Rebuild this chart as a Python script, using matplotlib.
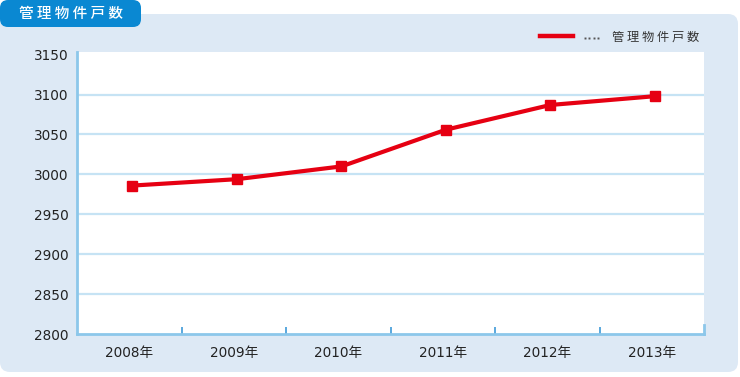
import matplotlib
matplotlib.use("Agg")
import matplotlib.pyplot as plt
from matplotlib.patches import FancyBboxPatch
from matplotlib.lines import Line2D

plt.rcParams['font.family'] = ['DejaVu Sans', 'Noto Sans CJK JP']

title = "管 理 物 件 戸 数"
series_name = "管 理 物 件 戸 数"
years = ["2008年", "2009年", "2010年", "2011年", "2012年", "2013年"]
values = [2986, 2994, 3010, 3056, 3087, 3098]
yticks = [2800, 2850, 2900, 2950, 3000, 3050, 3100, 3150]

W, H = 740, 377
fig = plt.figure(figsize=(W / 100, H / 100), dpi=100)
fig.patch.set_facecolor("white")

# background panel
bg = fig.add_axes([0, 0, 1, 1], zorder=0)
bg.set_xlim(0, W)
bg.set_ylim(H, 0)
bg.axis("off")
bg.add_patch(FancyBboxPatch((0, 14), 738, 358, boxstyle="round,pad=0,rounding_size=10",
                            facecolor="#dde9f5", edgecolor="none"))
bg.add_patch(FancyBboxPatch((0, 0), 141, 27, boxstyle="round,pad=0,rounding_size=8",
                            facecolor="#0a88d2", edgecolor="none"))
bg.text(71, 14, title, color="white", fontsize=10.5, fontweight="medium",
        ha="center", va="center", family=["Noto Sans CJK JP", "DejaVu Sans"])

# legend
bg.add_line(Line2D([540, 573], [36, 36], color="#e60012", lw=3.2))
bg.add_line(Line2D([585, 589.3, 593.6, 597.9], [38, 38, 38, 38], color="#555555",
                   ls="none", marker="s", markersize=1.4, markeredgewidth=0))
bg.text(612, 37.5, series_name, color="#333333", fontsize=8.8, ha="left", va="center",
        family=["Noto Sans CJK JP", "DejaVu Sans"])

# plot axes
left, right, top, bottom = 77, 704, 51.5, 334
ax = fig.add_axes([left / W, 1 - bottom / H, (right - left) / W, (bottom - top) / H], zorder=1)
ax.set_facecolor("white")
x = list(range(len(years)))
ax.set_xlim(-0.5, len(years) - 0.5)
ax.set_ylim(2800, 3154)

for v in yticks[1:-1]:
    ax.axhline(v, color="#c6e3f4", lw=1.6, zorder=1)

ax.plot([i + 0.03 for i in x], values, color="#e60012", lw=3.0, marker="s", markersize=7.5,
        markerfacecolor="#e60012", markeredgecolor="#e60012", zorder=3, clip_on=False)

for s in ["top", "right"]:
    ax.spines[s].set_visible(False)
for s in ["left", "bottom"]:
    ax.spines[s].set_color("#8cc7ea")
    ax.spines[s].set_linewidth(2)
# short right end mark
ax.plot([len(years) - 0.5, len(years) - 0.5], [2800, 2811], color="#8cc7ea", lw=2,
        clip_on=False, zorder=4)

ax.set_yticks(yticks)
ax.set_yticklabels([str(v) for v in yticks], fontsize=9.8, color="#222222")
ax.tick_params(axis="y", length=0, pad=6)

ax.set_xticks(x)
ax.set_xticklabels(years, fontsize=9.8, color="#222222",
                   family=["DejaVu Sans", "Noto Sans CJK JP"])
ax.tick_params(axis="x", which="major", length=0, pad=9)
ax.set_xticks([i + 0.5 for i in range(len(years) - 1)], minor=True)
ax.tick_params(axis="x", which="minor", direction="in", length=5, width=1.2, color="#3d9ad8")

fig.savefig("out.png", dpi=100, facecolor="white")
